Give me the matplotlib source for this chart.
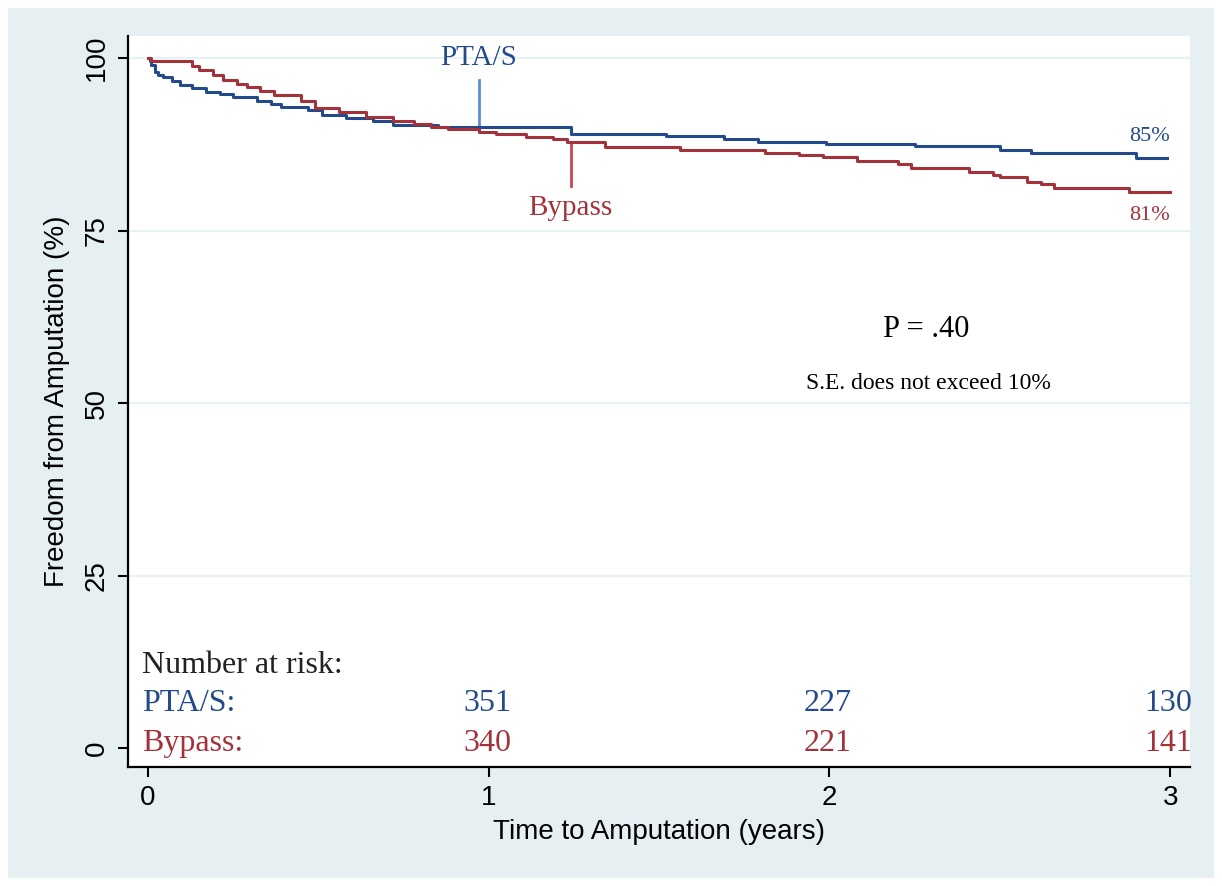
import numpy as np
import matplotlib.pyplot as plt
from matplotlib.patches import Rectangle

# Kaplan-Meier steps (time in years, freedom in %)
pta_t = [0.0, 0.005, 0.01, 0.02, 0.03, 0.045, 0.07, 0.094, 0.13, 0.17, 0.21, 0.25,
         0.32, 0.36, 0.39, 0.47, 0.51, 0.58, 0.66, 0.72, 0.85, 1.24, 1.52, 1.69,
         1.79, 1.99, 2.25, 2.50, 2.59, 2.90, 2.99]
pta_s = [100, 99.5, 99.0, 98.0, 97.6, 97.3, 96.6, 96.1, 95.6, 95.1, 94.8, 94.4,
         93.7, 93.3, 92.9, 92.5, 91.7, 91.3, 90.8, 90.3, 90.0, 89.0, 88.7, 88.3,
         87.9, 87.5, 87.2, 86.7, 86.2, 85.5, 85.5]

byp_t = [0.0, 0.01, 0.13, 0.15, 0.19, 0.22, 0.26, 0.29, 0.33, 0.37, 0.45, 0.49,
         0.56, 0.64, 0.72, 0.78, 0.83, 0.88, 0.97, 1.02, 1.11, 1.19, 1.23, 1.34,
         1.56, 1.81, 1.91, 1.98, 2.08, 2.20, 2.24, 2.41, 2.48, 2.50, 2.58, 2.62,
         2.66, 2.88, 3.0]
byp_s = [100, 99.5, 98.8, 98.2, 97.6, 96.8, 96.3, 95.8, 95.2, 94.6, 93.7, 92.7,
         92.2, 91.5, 90.8, 90.5, 90.0, 89.7, 89.3, 89.0, 88.6, 88.2, 87.9, 87.1,
         86.7, 86.3, 85.9, 85.6, 85.1, 84.6, 84.1, 83.5, 83.1, 82.7, 82.1, 81.7,
         81.2, 80.6, 80.6]

risk_years = [1, 2, 3]
risk_pta = [351, 227, 130]
risk_byp = [340, 221, 141]

blue = "#234a8a"
red = "#a3323a"
blue_light = "#5b8fd0"
red_light = "#c4484f"
serif = "Liberation Serif"
sans = "Liberation Sans"

fig = plt.figure(figsize=(12.22, 8.86), dpi=100)
fig.patch.set_facecolor("white")
fig.add_artist(Rectangle((8 / 1222, 8 / 886), 1206 / 1222, 870 / 886,
                         transform=fig.transFigure, facecolor="#e6f0f2",
                         edgecolor="none", zorder=0))

ax = fig.add_axes([128 / 1222, 1 - 767 / 886, (1190 - 128) / 1222, (767 - 36) / 886])
ax.set_facecolor("white")

for g in [25, 50, 75, 100]:
    ax.axhline(g, color="#e8f1f3", lw=1.6, zorder=1)

ax.plot(pta_t, pta_s, drawstyle="steps-post", color=blue, lw=2.2, zorder=3)
ax.plot(byp_t, byp_s, drawstyle="steps-post", color=red, lw=2.2, zorder=3)

# curve labels with pointer lines
ax.plot([0.97, 0.97], [90.0, 96.8], color=blue_light, lw=2, zorder=2)
ax.text(0.97, 100, "PTA/S", color=blue, fontsize=21, family=serif,
        ha="center", va="center")
ax.plot([1.24, 1.24], [87.9, 81.4], color=red_light, lw=2, zorder=2)
ax.text(1.24, 78.3, "Bypass", color=red, fontsize=21, family=serif,
        ha="center", va="center")

ax.text(3.0, 88.6, "85%", color=blue, fontsize=16, family=serif,
        ha="right", va="center")
ax.text(3.0, 77.2, "81%", color=red, fontsize=16, family=serif,
        ha="right", va="center")

ax.text(2.284, 60.6, "P = .40", color="black", fontsize=22, family=serif,
        ha="center", va="center")
ax.text(2.29, 52.9, "S.E. does not exceed 10%", color="black", fontsize=17,
        family=serif, ha="center", va="center")

# number at risk table
ax.text(-0.018, 12.0, "Number at risk:", color="#222222", fontsize=23,
        family=serif, ha="left", va="center")
ax.text(-0.018, 6.4, "PTA/S:", color=blue, fontsize=23, family=serif,
        ha="left", va="center")
ax.text(-0.018, 0.6, "Bypass:", color=red, fontsize=23, family=serif,
        ha="left", va="center")
for yr, n1, n2 in zip(risk_years, risk_pta, risk_byp):
    ax.text(yr - 0.005, 6.4, str(n1), color=blue, fontsize=23, family=serif,
            ha="center", va="center")
    ax.text(yr - 0.005, 0.6, str(n2), color=red, fontsize=23, family=serif,
            ha="center", va="center")

ax.set_xlim(-0.0587, 3.058)
ax.set_ylim(-2.75, 103.19)
ax.set_xticks([0, 1, 2, 3])
ax.set_yticks([0, 25, 50, 75, 100])
ax.tick_params(axis="both", direction="out", length=7, width=1.5,
               labelsize=20, pad=6)
for lab in ax.get_yticklabels():
    lab.set_rotation(90)
    lab.set_va("center")
    lab.set_family(sans)
for lab in ax.get_xticklabels():
    lab.set_family(sans)

for side in ["top", "right"]:
    ax.spines[side].set_visible(False)
for side in ["left", "bottom"]:
    ax.spines[side].set_linewidth(1.6)

ax.set_xlabel("Time to Amputation (years)", fontsize=20, family=sans, labelpad=6)
ax.set_ylabel("Freedom from Amputation (%)", fontsize=20, family=sans, labelpad=10)

fig.savefig("out.png", dpi=100, facecolor=fig.get_facecolor())
